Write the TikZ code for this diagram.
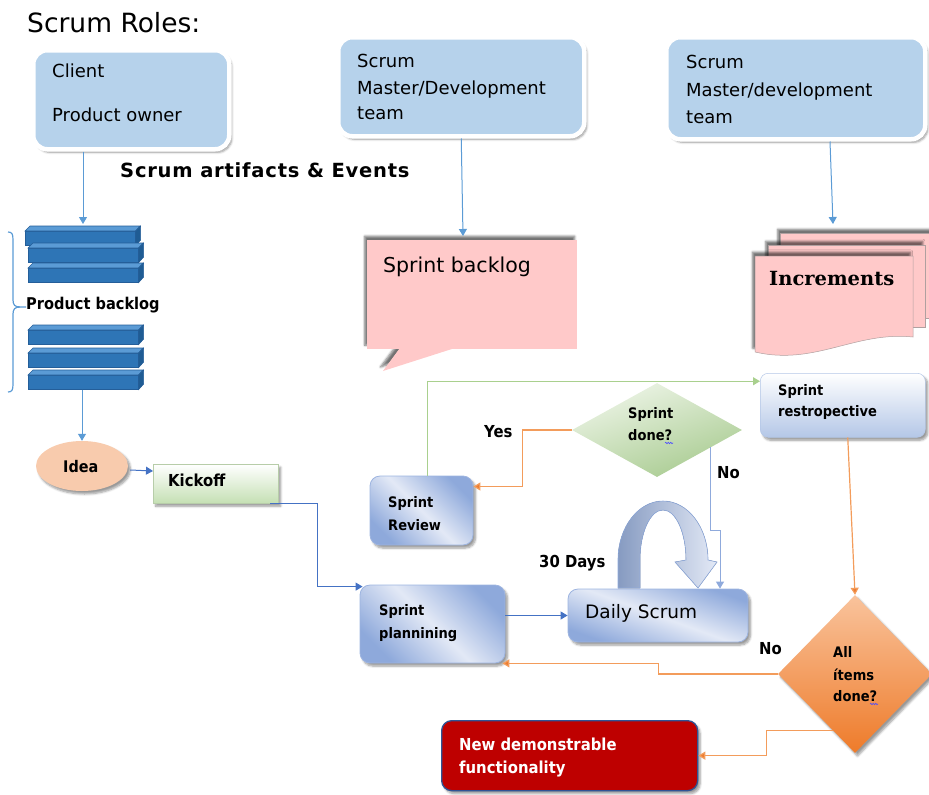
\documentclass[tikz,border=0pt]{standalone}
\usepackage{fontspec}
\setmainfont{DejaVu Sans}
\newfontfamily\lblfont{DejaVu Sans}[FakeStretch=0.9]
\newfontfamily\eventsfont{DejaVu Sans}[LetterSpace=4]
\newfontfamily\incfont{DejaVu Serif}
\usetikzlibrary{arrows.meta,shapes.geometric,shadows.blur,calc,decorations.pathmorphing}

\definecolor{roleblue}{HTML}{B6D2EB}
\definecolor{pinkfill}{HTML}{FFC9C9}
\definecolor{pinkedge}{HTML}{B0A0A0}
\definecolor{peach}{HTML}{F8CBAD}
\definecolor{barblue}{HTML}{2E75B6}
\definecolor{bartop}{HTML}{5B9BD5}
\definecolor{barside}{HTML}{1F5C94}
\definecolor{baredge}{HTML}{245E99}
\definecolor{lineblue}{HTML}{5B9BD5}
\definecolor{arrblue}{HTML}{4472C4}
\definecolor{boxdark}{HTML}{8EA9DB}
\definecolor{boxlight}{HTML}{E3E9F6}
\definecolor{boxedge}{HTML}{9DB4E0}
\definecolor{kickgreen}{HTML}{C5E0B4}
\definecolor{lgreen}{HTML}{A9D08E}
\definecolor{orangeline}{HTML}{F39C5B}
\definecolor{orangetip}{HTML}{ED7D31}
\definecolor{noblue}{HTML}{8FAADC}
\definecolor{darkred}{HTML}{BE0000}
\definecolor{redge}{HTML}{2F5496}
\definecolor{restrolo}{HTML}{B4C7E7}
\definecolor{dgreenlo}{HTML}{A8CB90}
\definecolor{dgreenhi}{HTML}{EEF5E8}
\definecolor{orangehi}{HTML}{F9C39C}
\definecolor{orangelo}{HTML}{EE7B2A}

\newcommand\fRole{\fontsize{18}{21}\selectfont}
\newcommand\fLbl{\lblfont\bfseries\fontsize{14.5}{17}\selectfont}
\newcommand\fTag{\lblfont\bfseries\fontsize{16.5}{19}\selectfont}

\begin{document}
\begin{tikzpicture}[x=1pt,y=-1pt,
  tip/.style={-{Triangle[width=8pt,length=7pt]}},
  softshadow/.style={blur shadow={shadow xshift=2.5pt,shadow yshift=-3pt,shadow blur steps=6,shadow opacity=40}},
  upshadow/.style={blur shadow={shadow xshift=-2.5pt,shadow yshift=4pt,shadow blur steps=5,shadow opacity=55}},
  rolebox/.style={draw=white,line width=4.5pt,fill=roleblue,rounded corners=14pt,inner sep=0pt,anchor=north west,softshadow},
  bluebox/.style={draw=boxedge,line width=0.8pt,rounded corners=10pt,inner sep=0pt,softshadow,
    left color=boxdark,right color=boxdark,middle color=boxlight,shading angle=135},
  barbox/.style={draw=baredge,line width=0.6pt,fill=barblue,inner sep=0pt,anchor=north west,minimum width=110pt,minimum height=14pt},
  page/.style={draw=pinkedge,line width=0.5pt,fill=pinkfill,inner sep=0pt,anchor=north west,upshadow},
  t/.style={anchor=base west,inner sep=0pt},
  thinblue/.style={draw=lineblue,line width=1pt,tip},
  blueln/.style={draw=arrblue,line width=1pt,tip},
  orangeln/.style={draw=orangeline,line width=1.2pt,-{Triangle[width=8pt,length=7pt,fill=orangetip]}},
  greenln/.style={draw=lgreen,line width=1.2pt,tip},
  noln/.style={draw=noblue,line width=1pt,tip},
]
\useasboundingbox (0,0) rectangle (929,795);

% ---------- roles ----------
\node[t,font=\fontsize{26.5}{30}\selectfont] (title) at (27,32) {Scrum Roles:};

\node[rolebox,minimum width=196pt,minimum height=99pt] (box1) at (31,48) {};
\node[t,font=\fRole] (c1) at (52,77) {Client};
\node[t,font=\fRole] (c2) at (52,121) {Product owner};

\node[rolebox,minimum width=246pt,minimum height=99pt] (box2) at (336,35) {};
\node[t,font=\fRole] (m1) at (357,67) {Scrum};
\node[t,font=\fRole] (m2) at (357,94) {Master/Development};
\node[t,font=\fRole] (m3) at (357,119) {team};

\node[rolebox,minimum width=259pt,minimum height=102pt] (box3) at (664,35) {};
\node[t,font=\fRole] (d1) at (686,68) {Scrum};
\node[t,font=\fRole] (d2) at (686,96) {Master/development};
\node[t,font=\fRole] (d3) at (686,123) {team};

\node[t,font=\eventsfont\bfseries\fontsize{19.5}{22}\selectfont] (events) at (120,177) {Scrum artifacts \& Events};

% ---------- product backlog stack ----------
\foreach \i/\x/\y in {1/25/226,2/28/243,3/28/263,4/28/325,5/28/348,6/28/370}{
  \node[barbox] (bar\i) at (\x,\y+5) {};
  \filldraw[fill=bartop,draw=baredge,line width=0.6pt]
    (bar\i.north west) -- ++(5,-5) -- ++(110,0) -- (bar\i.north east) -- cycle;
  \filldraw[fill=barside,draw=baredge,line width=0.6pt]
    (bar\i.north east) -- ++(5,-5) -- ++(0,14) -- (bar\i.south east) -- cycle;
}
\draw[lineblue,line width=1.2pt] (8,232) .. controls (12,232) and (13,234) .. (13,240) -- (13,300)
  .. controls (13,305) and (15,307) .. (20,307) -- (26,307);
\draw[lineblue,line width=1.2pt] (8,392) .. controls (12,392) and (13,390) .. (13,384) -- (13,314)
  .. controls (13,309) and (15,307) .. (20,307);
\node[t,font=\lblfont\bfseries\fontsize{16.2}{18}\selectfont] (pb) at (26,309) {Product backlog};

\coordinate (pbtop) at (83,224);
\draw[thinblue] (box1.south -| pbtop) -- (pbtop);

% ---------- idea and kickoff ----------
\node[ellipse,fill=peach,minimum width=92pt,minimum height=50pt,inner sep=0pt,softshadow] (idea) at (82,466) {};
\node[t,font=\lblfont\bfseries\fontsize{16}{18}\selectfont] (ideatxt) at (63,472) {Idea};
\draw[thinblue] (bar6.south -| idea.north) -- (idea.north);

\node[anchor=north west,minimum width=125pt,minimum height=39pt,inner sep=0pt,
  top color=white,bottom color=kickgreen,draw=kickgreen!80!gray,line width=0.4pt,softshadow] (kickoff) at (153,464) {};
\node[t,font=\lblfont\bfseries\fontsize{16.5}{19}\selectfont] (kicktxt) at (168,486) {Kickoff};
\draw[blueln] ($(idea.east)+(2,4)$) -- (kickoff.west |- 0,471);

% ---------- sprint backlog callout ----------
\fill[pinkfill,upshadow] (400,348) -- (383,371) -- (455,348) -- cycle;
\node[anchor=north west,minimum width=210pt,minimum height=109pt,inner sep=0pt,fill=pinkfill,upshadow] (backlog) at (367,240) {};
\fill[pinkfill] (401,347) -- (384,370) -- (454,347) -- cycle;
\node[t,font=\fontsize{20.5}{24}\selectfont] (sbtxt) at (383,272) {Sprint backlog};
\coordinate (sbtop) at (463,236);
\draw[thinblue] (box2.south) -- (sbtop);

% ---------- increments ----------
\node[page,minimum width=160pt,minimum height=85pt] (incback) at (780,233) {};
\node[page,minimum width=157pt,minimum height=82pt] (incmid) at (768,245) {};
\filldraw[draw=pinkedge,line width=0.5pt,fill=pinkfill,upshadow]
  (755,256) -- (913,256) -- (913,337) .. controls (855,331) and (815,366) .. (755,352) -- cycle;
\node[t,font=\incfont\bfseries\fontsize{19.5}{23}\selectfont] (inctxt) at (769,285) {Increments};
\coordinate (inctop) at (833,224);
\draw[thinblue] (box3.south -| 830,0) -- (inctop);

% ---------- sprint events ----------
\node[anchor=north west,minimum width=165pt,minimum height=64pt,inner sep=0pt,rounded corners=8pt,
  top color=white,bottom color=restrolo,draw=restrolo,line width=0.5pt,softshadow] (restro) at (760,373) {};
\node[t,font=\fLbl] (r1) at (778,395) {Sprint};
\node[t,font=\fLbl] (r2) at (778,416) {restropective};

\node[diamond,minimum width=170pt,minimum height=94pt,inner sep=0pt,
  top color=dgreenhi,bottom color=dgreenlo,shading angle=20] (sd) at (657,430) {};
\node[t,font=\fLbl] (s1) at (628,418) {Sprint};
\node[t,font=\fLbl] (s2) at (628,440) {done?};
\draw[blue!70,line width=0.6pt,decorate,decoration={snake,amplitude=0.7pt,segment length=2.5pt}] (665,443) -- (673,443);

\node[bluebox,minimum width=103pt,minimum height=69pt] (review) at (421.5,510.5) {};
\node[t,font=\fLbl] (v1) at (388,507) {Sprint};
\node[t,font=\fLbl] (v2) at (388,530) {Review};

\node[bluebox,minimum width=145pt,minimum height=78pt] (planning) at (432.5,624) {};
\node[t,font=\fLbl] (p1) at (379,615) {Sprint};
\node[t,font=\fLbl] (p2) at (379,638) {plannining};

\node[bluebox,minimum width=180pt,minimum height=53pt,shading angle=160] (daily) at (658,615.5) {};
\node[t,font=\fontsize{18.5}{22}\selectfont] (dtxt) at (585,618) {Daily Scrum};

% curved block arrow over the daily scrum
\filldraw[draw=noblue,line width=0.6pt,left color=boxdark!85!black!90,right color=boxlight,shading angle=90]
  (618,588) -- (618,560) arc[start angle=180,end angle=0,x radius=45pt,y radius=59pt]
  -- (717,562) -- (698,588) -- (675,562) -- (686,560)
  arc[start angle=0,end angle=180,x radius=23pt,y radius=50pt] -- (640,588) -- cycle;
\node[t,font=\fTag] (days) at (539,567) {30 Days};

\node[diamond,minimum width=154pt,minimum height=158pt,inner sep=0pt,
  top color=orangehi,bottom color=orangelo,softshadow] (ad) at (855,674) {};
\node[t,font=\fLbl] (a1) at (833,657) {All};
\node[t,font=\fLbl] (a2) at (833,680) {ítems};
\node[t,font=\fLbl] (a3) at (833,701) {done?};
\draw[blue!70,line width=0.6pt,decorate,decoration={snake,amplitude=0.7pt,segment length=2.5pt}] (870,704) -- (878,704);

\node[anchor=north west,minimum width=256pt,minimum height=70pt,inner sep=0pt,rounded corners=10pt,
  fill=darkred,draw=redge,line width=1.3pt,softshadow] (newf) at (441,720) {};
\node[t,font=\lblfont\bfseries\fontsize{16.5}{19}\selectfont,text=white] (n1) at (459,750) {New demonstrable};
\node[t,font=\lblfont\bfseries\fontsize{16.5}{19}\selectfont,text=white] (n2) at (459,773) {functionality};

% ---------- flow ----------
\draw[blueln] ($(kickoff.south east)+(-8,0)$) -| ($(planning.north west)+(-42,2)$) -- ($(planning.north west)+(3,2)$);
\draw[blueln] (planning.east |- daily.west) -- (daily.west);

\draw[orangeln] (sd.west) -| ($(review.east)+(49,-24)$) -- ($(review.east)+(0,-24)$);
\node[t,font=\fTag] (yes) at (484,437) {Yes};

\draw[greenln] ($(review.north)+(6,0)$) |- ($(restro.west)+(0,-24)$);

\draw[noln] (sd.-18) -- ++(0,83) -| ($(daily.north)+(62,0)$);
\node[t,font=\fTag] (no1) at (717,478) {No};

\draw[orangeln] ($(restro.south)+(5,0)$) -- (ad.north);
\draw[orangeln] (ad.west) -| ($(planning.south east)+(153,0)$) -- ($(planning.south east)+(-3,0)$);
\node[t,font=\fTag] (no2) at (759,654) {No};
\draw[orangeln] (ad.-111) -| ($(newf.east)+(68,0)$) -- (newf.east);
\end{tikzpicture}
\end{document}
